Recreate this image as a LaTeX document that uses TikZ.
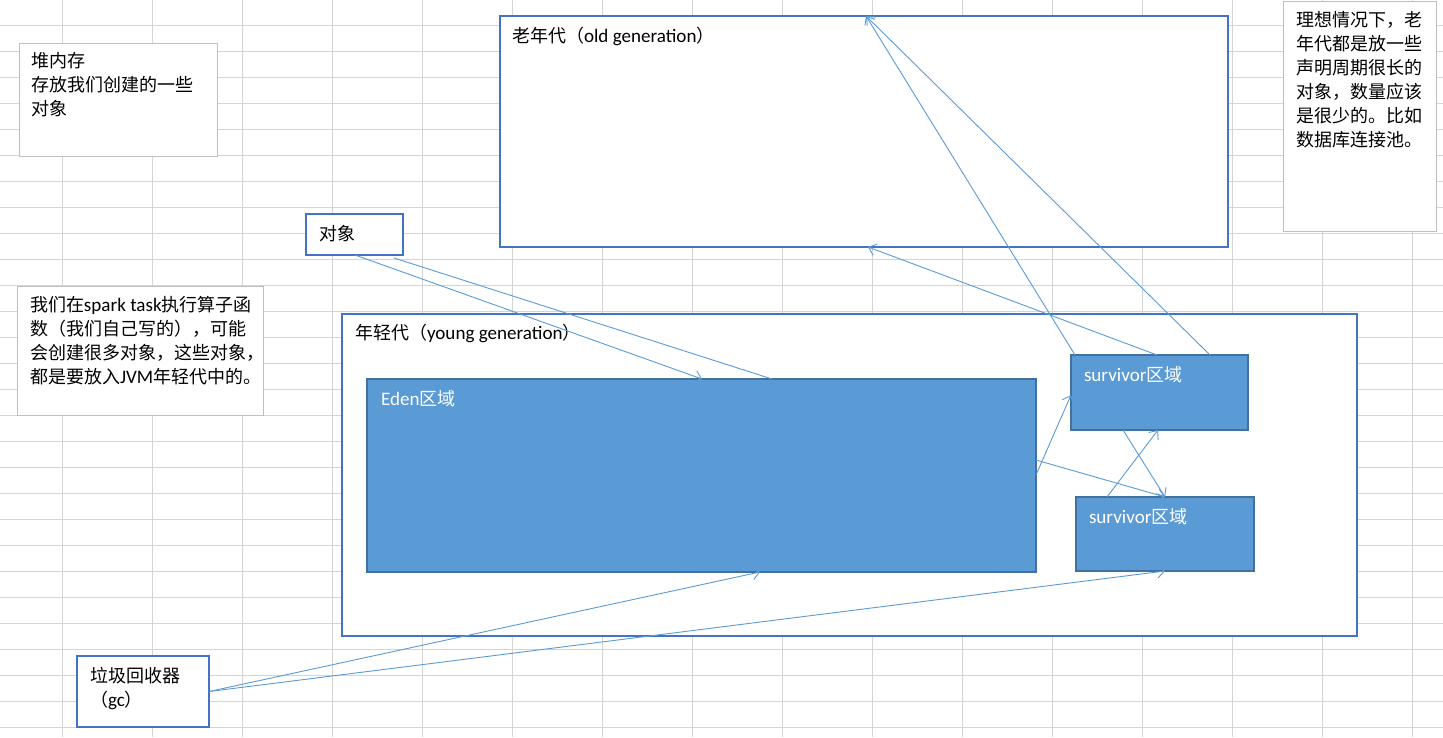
\documentclass[tikz,border=0pt]{standalone}
\usepackage{fontspec}
\setmainfont{Noto Sans CJK SC}
\newfontfamily\calibri[Scale=1.06]{Carlito}
\newcommand{\en}[1]{{\calibri #1}}
\usepackage{tikz}
\usetikzlibrary{arrows.meta}

\definecolor{gridgray}{HTML}{D4D4D4}
\definecolor{boxblue}{HTML}{4472C4}
\definecolor{notegray}{HTML}{BFBFBF}
\definecolor{zonefill}{HTML}{5B9BD5}
\definecolor{zoneedge}{HTML}{41719C}
\definecolor{linkblue}{HTML}{5B9BD5}

\begin{document}
\begin{tikzpicture}[x=1pt,y=-1pt,
every node/.style={font=\fontsize{18}{24}\selectfont, inner sep=0pt, outer sep=0pt},
gridline/.style={draw=gridgray, line width=1pt},
area/.style={draw=boxblue, line width=2pt, fill=white, anchor=north west},
zone/.style={draw=zoneedge, line width=2pt, fill=zonefill, anchor=north west},
note/.style={draw=notegray, line width=1pt, fill=white, anchor=north west},
caption/.style={anchor=north west, align=left},
link/.style={draw=linkblue, line width=0.9pt, -{Straight Barb[length=7pt,width=12pt]}},
plainlink/.style={draw=linkblue, line width=0.9pt},]
\useasboundingbox (0,0) rectangle (1443,737);
\fill[white] (0,0) rectangle (1443,737);
\foreach \gx in {0,...,15}
  \draw[gridline] (62+90*\gx,0) -- (62+90*\gx,737);
\foreach \gy in {0,...,27}
  \draw[gridline] (0,25+26*\gy) -- (1443,25+26*\gy);

\node[note, minimum width=198pt, minimum height=113pt] (heap) at (19,43) {};
\node[caption] (heaptext) at (31,52) {堆内存\\存放我们创建的一些\\对象};

\node[note, minimum width=246pt, minimum height=129pt] (sparknote) at (17,286) {};
\node[caption] (sparktext) at (30,296) {我们在\en{spark task}执行算子函\\数（我们自己写的），可能\\会创建很多对象，这些对象，\\都是要放入\en{JVM}年轻代中的。};

\node[note, minimum width=153pt, minimum height=230pt] (idealnote) at (1283,1) {};
\node[caption] (idealtext) at (1296,11) {理想情况下，老\\年代都是放一些\\声明周期很长的\\对象，数量应该\\是很少的。比如\\数据库连接池。};

\node[area, minimum width=728pt, minimum height=231pt] (old) at (500,16) {};
\node[caption] (oldlabel) at (512,27) {老年代（\en{old generation}）};

\node[area, minimum width=1015pt, minimum height=322pt] (young) at (342,314) {};
\node[caption] (younglabel) at (355,324) {年轻代（\en{young generation}）};

\node[zone, minimum width=669pt, minimum height=193pt] (eden) at (367,379) {};
\node[caption, text=white] (edenlabel) at (381,390) {\en{Eden}区域};

\node[zone, minimum width=177pt, minimum height=75pt] (survA) at (1071,355) {};
\node[caption, text=white] (survAlabel) at (1084,366) {\en{survivor}区域};

\node[zone, minimum width=178pt, minimum height=74pt] (survB) at (1076,497) {};
\node[caption, text=white] (survBlabel) at (1089,508) {\en{survivor}区域};

\node[area, minimum width=97pt, minimum height=41pt] (obj) at (306,214) {};
\node[caption] (objlabel) at (319,225) {对象};

\node[area, minimum width=132pt, minimum height=71pt] (gc) at (77,656) {};
\node[caption] (gclabel) at (90,667) {垃圾回收器\\（\en{gc}）};

\draw[link] ([xshift=49pt]obj.south west) -- ([xshift=335pt]eden.north west);
\draw[plainlink] ([shift={(-9pt,-3pt)}]obj.south east) -- ([xshift=405pt]eden.north west);
\draw[link] ([xshift=86pt]survA.north west) -- ([xshift=368pt]old.south west);
\draw[link] ([xshift=4pt]survA.north west) -- ([xshift=366pt]old.north west);
\draw[link] ([xshift=139pt]survA.north west) -- ([xshift=366pt]old.north west);
\draw[link] ([yshift=-96pt]eden.north east) -- ([yshift=-40pt]survA.north west);
\draw[link] ([yshift=-81pt]eden.north east) -- ([xshift=89pt]survB.north west);
\draw[link] ([xshift=52pt]survA.south west) -- ([xshift=89pt]survB.north west);
\draw[link] ([xshift=31pt]survB.north west) -- ([xshift=87pt]survA.south west);
\draw[link] (gc.east) -- ([xshift=393pt]eden.south west);
\draw[link] (gc.east) -- ([xshift=89pt]survB.south west);
\end{tikzpicture}
\end{document}
